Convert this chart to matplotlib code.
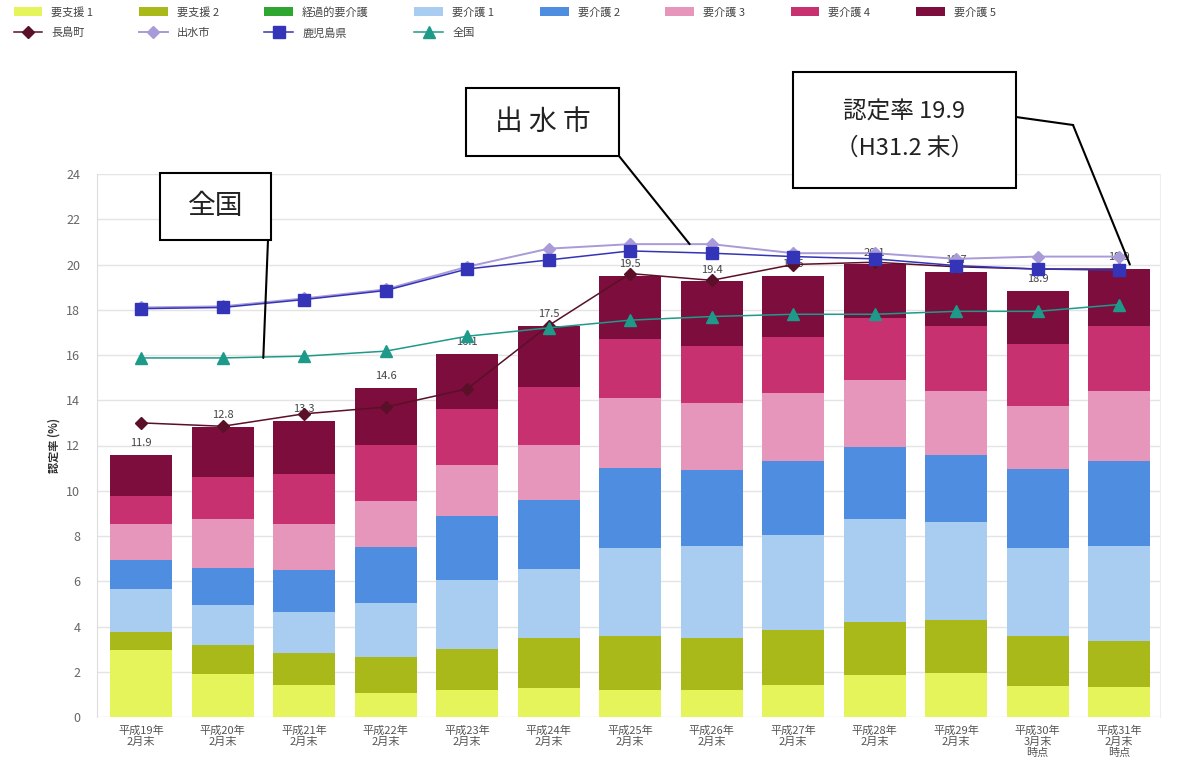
import numpy as np
import matplotlib
matplotlib.use("Agg")
from matplotlib import pyplot as plt
from matplotlib.patches import Rectangle

plt.rcParams['font.family'] = ['Noto Sans CJK JP', 'DejaVu Sans']

# x categories
periods = ['平成19年\n2月末', '平成20年\n2月末', '平成21年\n2月末', '平成22年\n2月末',
           '平成23年\n2月末', '平成24年\n2月末', '平成25年\n2月末', '平成26年\n2月末',
           '平成27年\n2月末', '平成28年\n2月末', '平成29年\n2月末',
           '平成30年\n3月末\n時点', '平成31年\n2月末\n時点']

# stacked bar segments (認定率 %)
shien1 = [2.96, 1.9, 1.4, 1.06, 1.2, 1.28, 1.2, 1.2, 1.4, 1.86, 1.95, 1.37, 1.33]
shien2 = [0.8, 1.3, 1.43, 1.59, 1.8, 2.22, 2.4, 2.3, 2.45, 2.34, 2.35, 2.21, 2.03]
keika = [0, 0, 0, 0, 0, 0, 0, 0, 0, 0, 0, 0, 0]
kaigo1 = [1.9, 1.76, 1.82, 2.39, 3.06, 3.05, 3.88, 4.07, 4.2, 4.56, 4.3, 3.9, 4.21]
kaigo2 = [1.29, 1.64, 1.85, 2.46, 2.84, 3.05, 3.52, 3.33, 3.25, 3.19, 3.0, 3.49, 3.73]
kaigo3 = [1.59, 2.16, 2.04, 2.06, 2.25, 2.4, 3.1, 3.0, 3.0, 2.95, 2.8, 2.79, 3.1]
kaigo4 = [1.24, 1.84, 2.21, 2.44, 2.45, 2.6, 2.6, 2.5, 2.5, 2.75, 2.9, 2.74, 2.9]
kaigo5 = [1.82, 2.2, 2.35, 2.56, 2.46, 2.7, 2.8, 2.85, 2.7, 2.35, 2.35, 2.35, 2.5]
bar_labels = ['11.9', '12.8', '13.3', '14.6', '16.1', '17.5', '19.5', '19.4',
              '19.5', '20.1', '19.7', '18.9', '19.9']

# lines
nagashima = [13.0, 12.85, 13.4, 13.7, 14.5, 17.3, 19.6, 19.3, 20.0, 20.1, 19.9, 19.8, 19.8]
izumi = [18.1, 18.15, 18.5, 18.9, 19.9, 20.7, 20.9, 20.9, 20.5, 20.5, 20.25, 20.35, 20.35]
kagoshima = [18.05, 18.1, 18.45, 18.85, 19.8, 20.2, 20.6, 20.5, 20.35, 20.25, 19.95, 19.8, 19.75]
zenkoku = [15.87, 15.87, 15.95, 16.17, 16.83, 17.2, 17.54, 17.7, 17.8, 17.8, 17.93, 17.93, 18.23]

seg_names = ['要支援 1', '要支援 2', '経過的要介護', '要介護 1', '要介護 2', '要介護 3', '要介護 4', '要介護 5']
seg_data = [shien1, shien2, keika, kaigo1, kaigo2, kaigo3, kaigo4, kaigo5]
seg_colors = ['#e4f45a', '#a9b91a', '#2fa62f', '#a8cdf0', '#4f8de0', '#e596ba', '#c8316f', '#7c0d3d']

W, H = 1188, 780
fig = plt.figure(figsize=(W / 100, H / 100), dpi=100)
ax = fig.add_axes([97 / W, 1 - 717 / H, (1160 - 97) / W, (717 - 174) / H])

x = np.arange(len(periods))
bottom = np.zeros(len(periods))
bar_handles = []
for name, vals, col in zip(seg_names, seg_data, seg_colors):
    b = ax.bar(x, vals, width=0.76, bottom=bottom, color=col, label=name, zorder=2)
    bar_handles.append(b)
    bottom += np.array(vals)

for xi, top, lab in zip(x, bottom, bar_labels):
    ax.annotate(lab, (xi, top), xytext=(0, 5), textcoords='offset points',
                ha='center', va='bottom', fontsize=8, color='#444444', zorder=3)

l1, = ax.plot(x, nagashima, color='#5a1028', marker='D', ms=6, lw=1.1, label='長島町', zorder=5)
l2, = ax.plot(x, izumi, color='#a99ad8', marker='D', ms=6, lw=1.4, label='出水市', zorder=6)
l3, = ax.plot(x, kagoshima, color='#3434b8', marker='s', ms=8, lw=1.1, label='鹿児島県', zorder=7)
l4, = ax.plot(x, zenkoku, color='#1d9a8a', marker='^', ms=8, lw=1.1, label='全国', zorder=5)

ax.set_xlim(-0.54, 12.5)
ax.set_ylim(0, 24)
ax.set_yticks(np.arange(0, 25, 2))
ax.set_xticks(x)
ax.set_xticklabels(periods, fontsize=8, color='#555555', linespacing=1.1)
ax.tick_params(axis='y', labelsize=9, labelcolor='#666666', length=0, pad=12)
ax.tick_params(axis='x', length=0, pad=6)
ax.grid(axis='y', color='#e4e4e4', lw=1, zorder=0)
ax.set_axisbelow(True)
for s in ['top', 'bottom']:
    ax.spines[s].set_visible(False)
ax.spines['left'].set_color('#dddddd')
ax.spines['right'].set_color('#eeeeee')
ax.set_ylabel('認定率 (%)', fontsize=8, fontweight='bold', color='#333333', labelpad=4)

# legend: row 1 bars, row 2 lines (column-major order)
handles = [bar_handles[0], l1, bar_handles[1], l2, bar_handles[2], l3, bar_handles[3], l4,
           bar_handles[4], bar_handles[5], bar_handles[6], bar_handles[7]]
labels = [h.get_label() for h in handles]
fig.legend(handles, labels, loc='upper left', bbox_to_anchor=(0.003, 1.004), ncol=8,
           frameon=False, fontsize=8, labelcolor='#444444', handlelength=2.6,
           handleheight=0.9, columnspacing=4.1, handletextpad=0.8, labelspacing=0.9)


def fx(px):
    return px / W


def fy(py):
    return 1 - py / H


# callout boxes
boxes = [((160, 173, 271, 240), '全国', 20),
         ((466, 88, 619, 156), '出 水 市', 20),
         ((793, 72, 1016, 188), '認定率 19.9\n（H31.2 末）', 17)]
for (x0, y0, x1, y1), txt, fs in boxes:
    fig.patches.append(Rectangle((fx(x0), fy(y1)), fx(x1) - fx(x0), fy(y0) - fy(y1),
                                 transform=fig.transFigure, facecolor='white',
                                 edgecolor='black', lw=1.5, zorder=10))
    fig.text(fx((x0 + x1) / 2), fy((y0 + y1) / 2), txt, ha='center', va='center',
             fontsize=fs, color='#222222', linespacing=1.7, zorder=11)

arrow = dict(arrowstyle='-', color='black', lw=1.5, shrinkA=0, shrinkB=0)
ax.annotate('', xy=(1.5, zenkoku[1]), xytext=(fx(268), fy(240)),
            textcoords='figure fraction', arrowprops=arrow, zorder=9)
ax.annotate('', xy=(6.73, 20.9), xytext=(fx(619), fy(156)),
            textcoords='figure fraction', arrowprops=arrow, zorder=9)
ax.annotate('', xy=(12.13, 20.0), xytext=(fx(1073), fy(125)),
            textcoords='figure fraction', arrowprops=arrow, zorder=9)
fig.lines.append(plt.Line2D([fx(1016), fx(1073)], [fy(117), fy(125)],
                            transform=fig.transFigure, color='black', lw=1.5))

fig.savefig('out.png', dpi=100)
